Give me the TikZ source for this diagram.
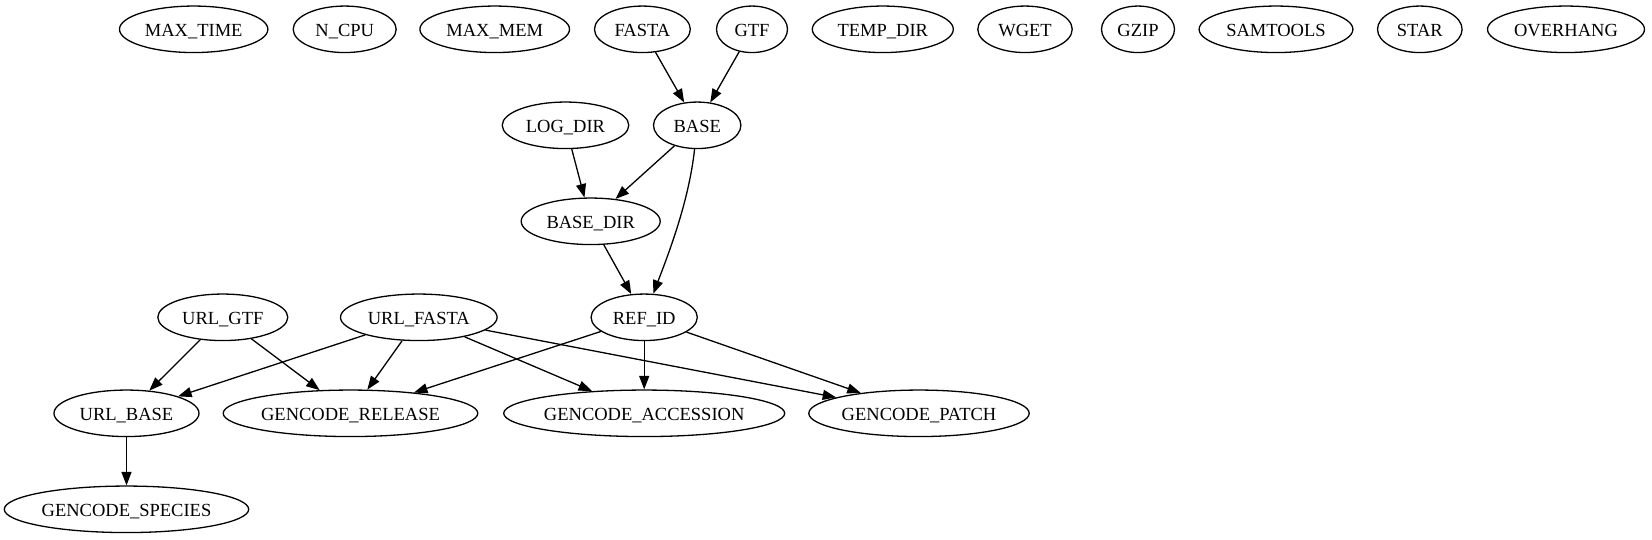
\documentclass[tikz,border=0pt]{standalone}
\usepackage{fontspec}
\setmainfont{Liberation Serif}
\usetikzlibrary{shapes.geometric,arrows.meta}
\newcommand{\lbl}[1]{\makebox[0pt]{#1}}
\begin{document}
\begin{tikzpicture}[x=1pt,y=-1pt,
  gnode/.style={draw, ellipse, line width=1.3pt, inner sep=0pt, minimum height=46.5pt, text height=15pt, text depth=0pt, font=\fontsize{18.5}{22}\selectfont},
  edge/.style={line width=1.3pt, -{Triangle[length=13.5pt,width=10pt]}}]
\useasboundingbox (0,0) rectangle (1652,539);
% rank 0
\node[gnode, minimum width=148.4pt] (MAXTIME) at (193.7,29.3) {\lbl{MAX\_TIME}};
\node[gnode, minimum width=103pt] (NCPU) at (344.7,29.3) {\lbl{N\_CPU}};
\node[gnode, minimum width=149.6pt] (MAXMEM) at (494.7,29.3) {\lbl{MAX\_MEM}};
\node[gnode, minimum width=95.8pt] (FASTA) at (642.4,29.3) {\lbl{FASTA}};
\node[gnode, minimum width=71pt] (GTF) at (752,29.3) {\lbl{GTF}};
\node[gnode, minimum width=141pt] (TEMPDIR) at (882.8,29.3) {\lbl{TEMP\_DIR}};
\node[gnode, minimum width=94.4pt] (WGET) at (1025,29.3) {\lbl{WGET}};
\node[gnode, minimum width=73pt] (GZIP) at (1138,29.3) {\lbl{GZIP}};
\node[gnode, minimum width=153.8pt] (SAMTOOLS) at (1276,29.3) {\lbl{SAMTOOLS}};
\node[gnode, minimum width=84.6pt] (STAR) at (1419.8,29.3) {\lbl{STAR}};
\node[gnode, minimum width=157pt] (OVERHANG) at (1566,29.3) {\lbl{OVERHANG}};
% rank 1
\node[gnode, minimum width=126.6pt] (LOGDIR) at (565.5,125.3) {\lbl{LOG\_DIR}};
\node[gnode, minimum width=87.4pt] (BASE) at (697.2,125.3) {\lbl{BASE}};
% rank 2
\node[gnode, minimum width=139pt] (BASEDIR) at (590.7,221.3) {\lbl{BASE\_DIR}};
% rank 3
\node[gnode, minimum width=130pt] (URLGTF) at (222.8,317.3) {\lbl{URL\_GTF}};
\node[gnode, minimum width=156.6pt] (URLFASTA) at (418.8,317.3) {\lbl{URL\_FASTA}};
\node[gnode, minimum width=106.2pt] (REFID) at (644.2,317.3) {\lbl{REF\_ID}};
% rank 4
\node[gnode, minimum width=145pt] (URLBASE) at (126.5,413.3) {\lbl{URL\_BASE}};
\node[gnode, minimum width=254.6pt] (REL) at (350.5,413.3) {\lbl{GENCODE\_RELEASE}};
\node[gnode, minimum width=281pt] (ACC) at (644.2,413.3) {\lbl{GENCODE\_ACCESSION}};
\node[gnode, minimum width=220.4pt] (PATCH) at (919,413.3) {\lbl{GENCODE\_PATCH}};
% rank 5
\node[gnode, minimum width=244.4pt] (SPECIES) at (126.5,509.3) {\lbl{GENCODE\_SPECIES}};
% edges
\draw[edge] (FASTA) -- (BASE);
\draw[edge] (GTF) -- (BASE);
\draw[edge] (LOGDIR) -- (BASEDIR);
\draw[edge] (BASE) -- (BASEDIR);
\draw[edge] (BASE) .. controls (689,200) and (670,250) .. (REFID);
\draw[edge] (BASEDIR) -- (REFID);
\draw[edge] (URLGTF) -- (URLBASE);
\draw[edge] (URLGTF) -- (REL);
\draw[edge] (URLFASTA) -- (URLBASE);
\draw[edge] (URLFASTA) -- (REL);
\draw[edge] (URLFASTA) -- (ACC);
\draw[edge] (URLFASTA) -- (PATCH);
\draw[edge] (REFID) -- (REL);
\draw[edge] (REFID) -- (ACC);
\draw[edge] (REFID) -- (PATCH);
\draw[edge] (URLBASE) -- (SPECIES);
\end{tikzpicture}
\end{document}
